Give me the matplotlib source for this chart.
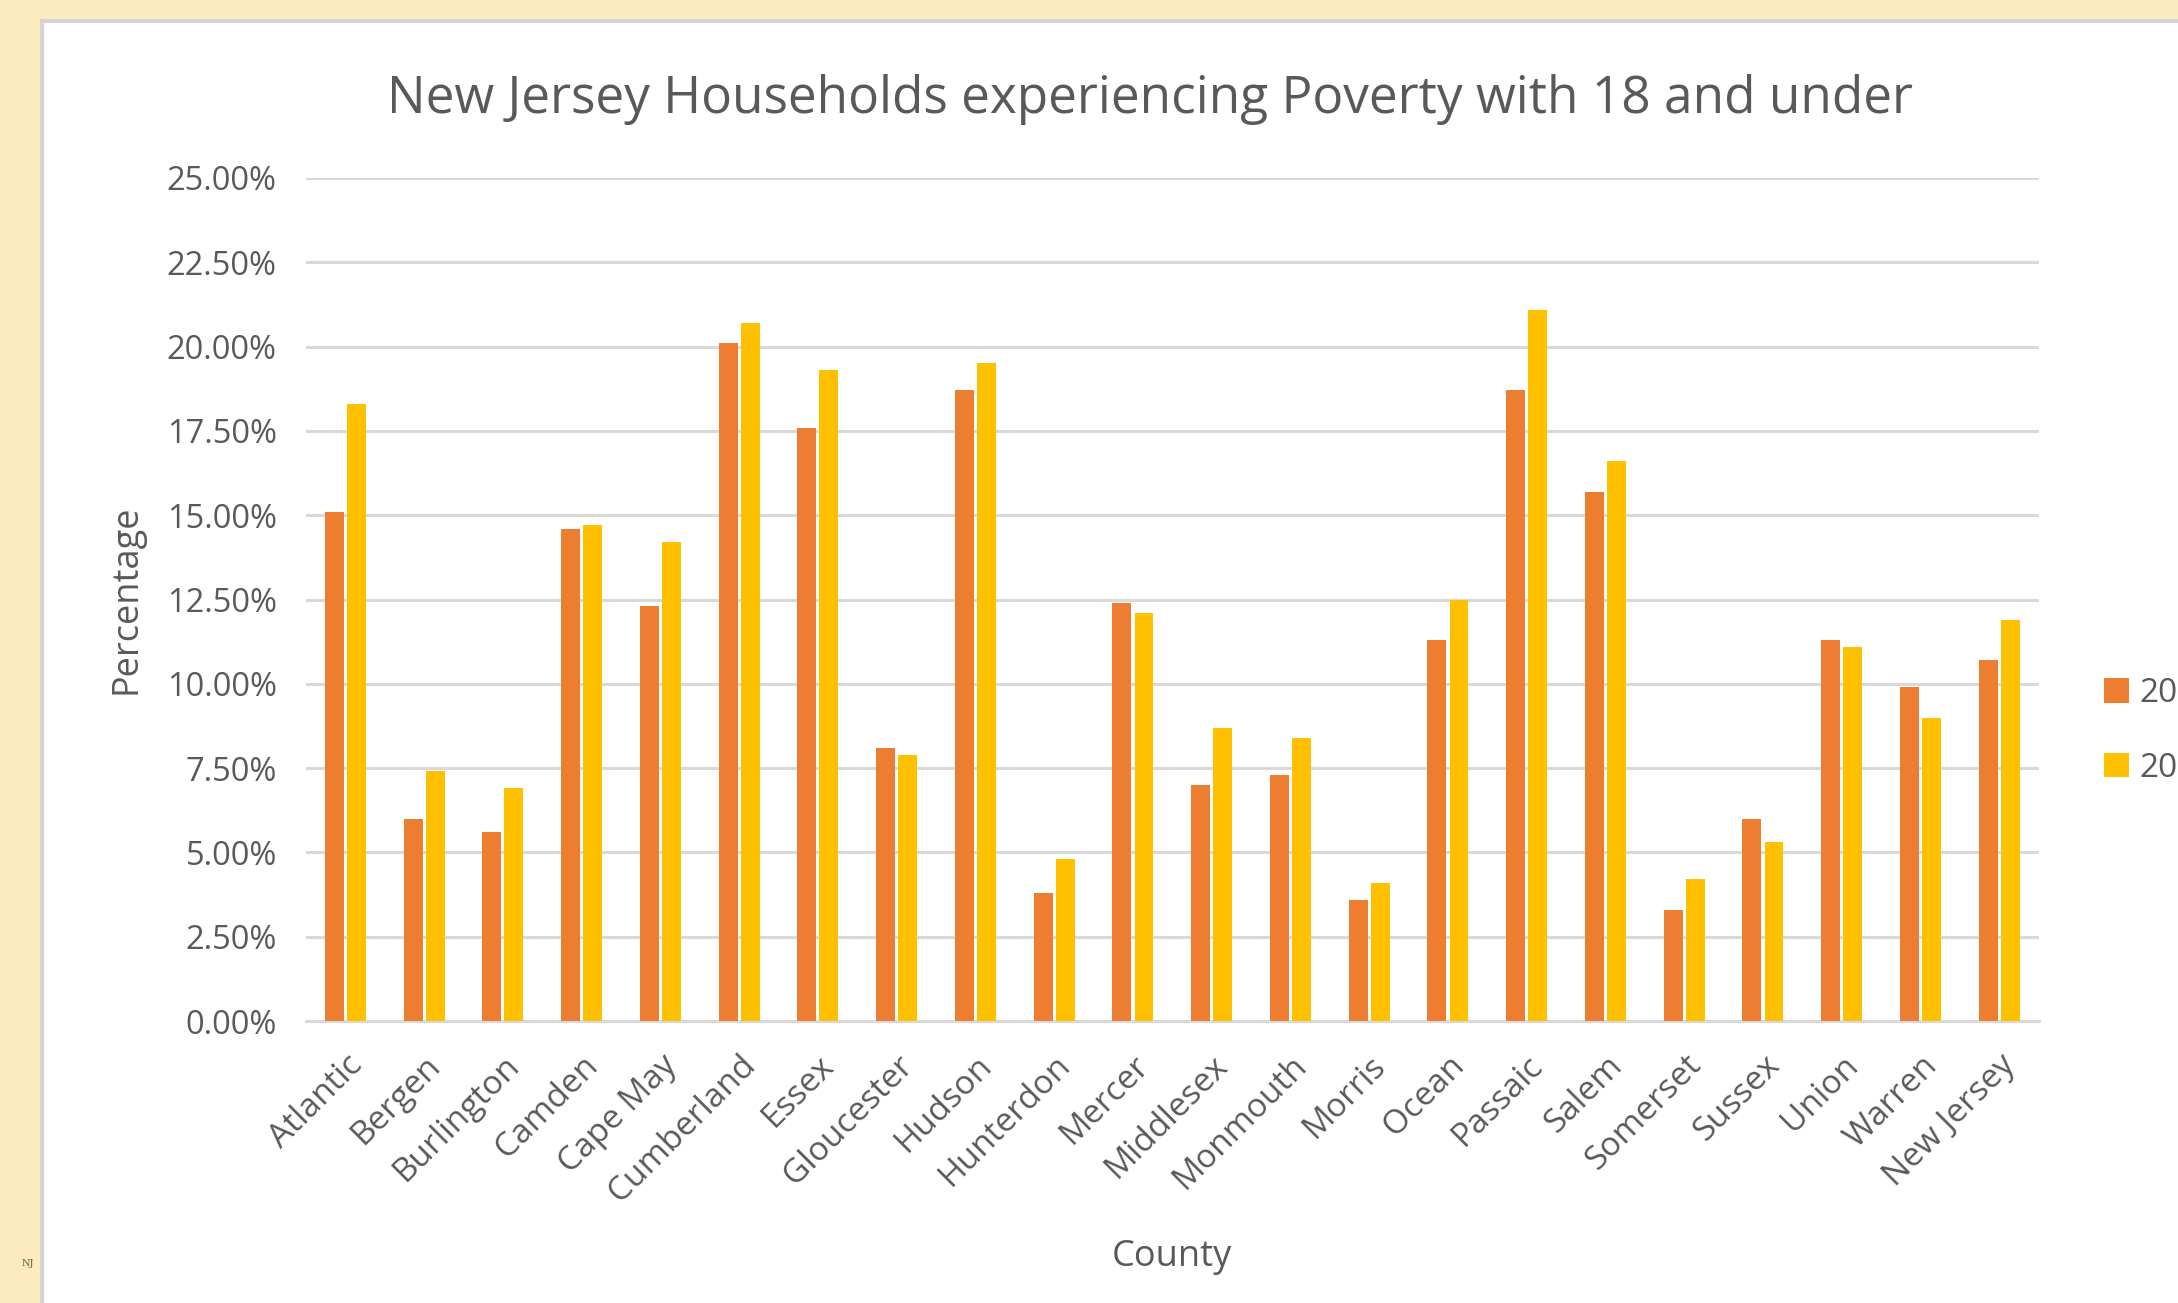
import numpy as np
import matplotlib
matplotlib.use('Agg')
import matplotlib.pyplot as plt
from matplotlib.patches import Rectangle
from matplotlib.ticker import PercentFormatter

counties = ['Atlantic', 'Bergen', 'Burlington', 'Camden', 'Cape May', 'Cumberland',
            'Essex', 'Gloucester', 'Hudson', 'Hunterdon', 'Mercer', 'Middlesex',
            'Monmouth', 'Morris', 'Ocean', 'Passaic', 'Salem', 'Somerset',
            'Sussex', 'Union', 'Warren', 'New Jersey']
pct_2018 = [15.1, 6.0, 5.6, 14.6, 12.3, 20.1, 17.6, 8.1, 18.7, 3.8, 12.4, 7.0,
            7.3, 3.6, 11.3, 18.7, 15.7, 3.3, 6.0, 11.3, 9.9, 10.7]
pct_2019 = [18.3, 7.4, 6.9, 14.7, 14.2, 20.7, 19.3, 7.9, 19.5, 4.8, 12.1, 8.7,
            8.4, 4.1, 12.5, 21.1, 16.6, 4.2, 5.3, 11.1, 9.0, 11.9]
series_names = ['2018', '2019']

txt = '#595959'
plt.rcParams['font.family'] = ['Open Sans', 'DejaVu Sans']

fig = plt.figure(figsize=(21.78, 13.03), dpi=100)
fig.patch.set_facecolor('#FCEBBF')
# white chart box behind the axes
fig.patches.append(Rectangle((42 / 2178, -0.01), 1.0, 1.01 - 21 / 1303, transform=fig.transFigure,
                             facecolor='white', edgecolor='#D4D4D4', linewidth=3, zorder=-5))
fig.text(28 / 2178, 1 - 1263 / 1303, 'NJ', fontsize=7, color='#7A5A2A',
         family='DejaVu Serif', ha='center', va='center')

ax = fig.add_axes([0.1405, 0.2164, 0.7955, 0.647])
ax.set_zorder(2)
ax.set_facecolor('none')
x = np.arange(len(counties))
w = 0.24
ax.bar(x - 0.14, pct_2018, w, color='#ED7D31', label=series_names[0], zorder=3)
ax.bar(x + 0.14, pct_2019, w, color='#FFC000', label=series_names[1], zorder=3)

ax.set_xlim(-0.5, len(counties) - 0.5)
ax.set_ylim(0, 25)
ax.set_yticks(np.arange(0, 25.01, 2.5))
ax.yaxis.set_major_formatter(PercentFormatter(decimals=2))
ax.grid(axis='y', color='#D9D9D9', linewidth=2.2, zorder=0)
ax.set_axisbelow(True)
for s in ['top', 'right', 'left']:
    ax.spines[s].set_visible(False)
ax.spines['bottom'].set_color('#D9D9D9')
ax.spines['bottom'].set_linewidth(2.2)
ax.tick_params(axis='y', length=0, labelsize=23.5, colors=txt, pad=21)
ax.tick_params(axis='x', length=0, labelsize=24, colors=txt, pad=20)
ax.set_xticks(x)
ax.set_xticklabels(counties, rotation=45, ha='right', rotation_mode='anchor')

ax.set_title('New Jersey Households experiencing Poverty with 18 and under',
             fontsize=37, color=txt, pad=47, x=0.487)
ax.set_ylabel('Percentage', fontsize=26, color=txt, labelpad=16)
ax.set_xlabel('County', fontsize=26, color=txt, labelpad=22)

leg = ax.legend(loc='center left', bbox_to_anchor=(2104 / 2178, 1 - 731 / 1303),
                bbox_transform=fig.transFigure, frameon=False, fontsize=24,
                borderaxespad=0, borderpad=0,
                handlelength=0.75, handleheight=0.75, handletextpad=0.3,
                labelspacing=1.25, labelcolor=txt)

fig.savefig('out.png', dpi=100, facecolor=fig.get_facecolor())
